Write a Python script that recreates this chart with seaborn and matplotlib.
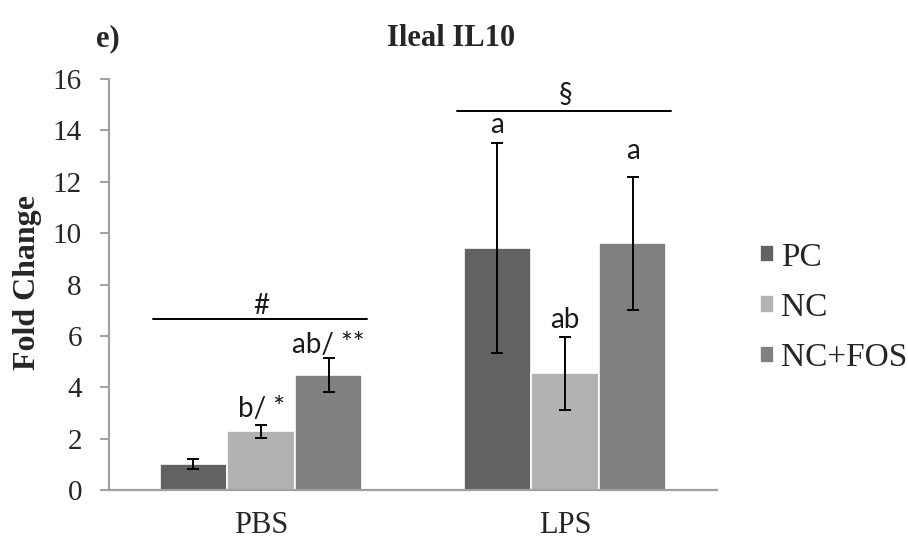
import matplotlib
matplotlib.use("Agg")
import matplotlib.pyplot as plt
import seaborn as sns
import pandas as pd
import numpy as np

# ---- data ----
treatments = ["PBS", "LPS"]
groups = ["PC", "NC", "NC+FOS"]
pbs_means = [1.02, 2.28, 4.46]
pbs_err = [0.19, 0.25, 0.66]
lps_means = [9.43, 4.54, 9.60]
lps_err = [4.08, 1.41, 2.60]
pbs_labels = ["", "b/ *", "ab/ **"]
lps_labels = ["a", "ab", "a"]
bracket_labels = ["#", "§"]
yticks = [0, 2, 4, 6, 8, 10, 12, 14, 16]

# ---- label placement (baseline heights, data units) ----
pbs_label_y = [0, 2.85, 5.33]
lps_label_y = [13.9, 6.3, 12.88]

colors = {"PC": "#626262", "NC": "#b2b2b2", "NC+FOS": "#808080"}

df = pd.DataFrame({
    "treatment": [t for t in treatments for _ in groups],
    "group": groups * 2,
    "value": pbs_means + lps_means,
})
errs = {("PBS", g): e for g, e in zip(groups, pbs_err)}
errs.update({("LPS", g): e for g, e in zip(groups, lps_err)})
labels = {("PBS", g): l for g, l in zip(groups, pbs_labels)}
labels.update({("LPS", g): l for g, l in zip(groups, lps_labels)})
lab_y = {("PBS", g): y for g, y in zip(groups, pbs_label_y)}
lab_y.update({("LPS", g): y for g, y in zip(groups, lps_label_y)})
means = {("PBS", g): m for g, m in zip(groups, pbs_means)}
means.update({("LPS", g): m for g, m in zip(groups, lps_means)})

sns.set_theme(style="white")
plt.rcParams["font.family"] = ["Liberation Serif", "DejaVu Serif"]

fig = plt.figure(figsize=(9.08, 5.43), dpi=100)
ax = fig.add_axes([109/908, 1-490/543, (717-109)/908, (490-79)/543])

sns.barplot(data=df, x="treatment", y="value", hue="group", order=treatments,
            hue_order=groups, palette=colors, width=0.667, errorbar=None,
            edgecolor="white", linewidth=1.2, ax=ax, legend=True)

# error bars and letters positioned from seaborn's bar patches
ann_font = ["Lato", "DejaVu Sans"]
for cont, g in zip(ax.containers, groups):
    for bar, t in zip(cont.patches, treatments):
        xc = bar.get_x() + bar.get_width() / 2
        m = means[(t, g)]
        e = errs[(t, g)]
        ax.errorbar(xc, m, yerr=e, fmt="none", ecolor="black", elinewidth=1.4,
                    capsize=4.3, capthick=1.4, zorder=5)
        lab = labels[(t, g)]
        if lab:
            ax.text(xc, lab_y[(t, g)], lab, ha="center", va="baseline",
                    fontsize=20, family=ann_font, color="#1a1a1a")

# brackets
ax.plot([-0.355, 0.349], [6.64, 6.64], color="black", lw=1.4)
ax.text(0.0, 6.85, bracket_labels[0], ha="center", va="baseline", fontsize=20,
        family=ann_font, color="#1a1a1a")
ax.plot([0.644, 1.348], [14.75, 14.75], color="black", lw=1.4)
ax.text(1.0, 15.08, bracket_labels[1], ha="center", va="baseline", fontsize=20,
        family=ann_font, color="#1a1a1a")

ax.set_xlim(-0.5, 1.5)
ax.set_ylim(0, 16)
ax.set_yticks(yticks)
ax.set_yticklabels([str(v) for v in yticks], fontsize=21)
ax.tick_params(axis="y", which="major", left=True, length=6.5, width=1.4,
               color="#a0a0a0", pad=13)
ax.tick_params(axis="x", which="major", bottom=False, length=0, pad=15,
               labelsize=22)
ax.set_xlabel("")
ax.set_ylabel("")
for s in ["top", "right"]:
    ax.spines[s].set_visible(False)
for s in ["left", "bottom"]:
    ax.spines[s].set_color("#a0a0a0")
    ax.spines[s].set_linewidth(1.6)

# legend
handles, lbls = ax.get_legend_handles_labels()
ax.legend_.remove()
fig.legend(handles, lbls, loc="upper left", bbox_to_anchor=(760/908, 1-242/543),
           frameon=False, fontsize=24, handlelength=0.42, handleheight=0.42,
           handletextpad=0.22, labelspacing=0.6, borderaxespad=0, borderpad=0)

# titles and y label
fig.text(451/908, 1-46/543, "Ileal IL10", ha="center", va="baseline",
         fontsize=22, fontweight="bold")
fig.text(96/908, 1-46/543, "e)", ha="left", va="baseline",
         fontsize=22, fontweight="bold")
fig.text(28/908, 1-283/543, "Fold Change", rotation=90, ha="center",
         va="center", fontsize=23, fontweight="bold")

fig.savefig("out.png", dpi=100)
